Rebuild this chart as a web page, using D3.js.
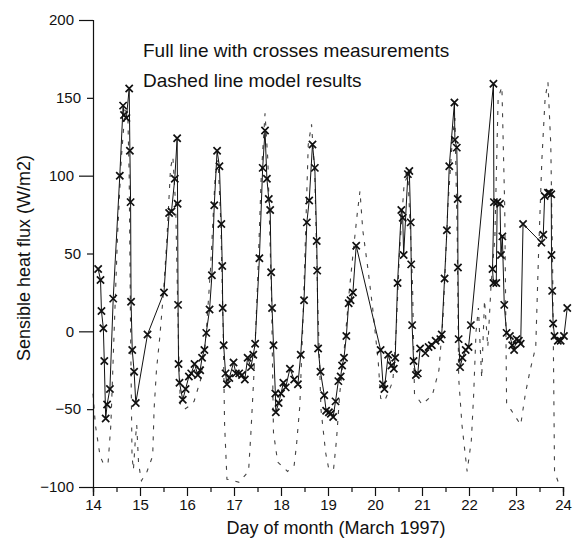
<!DOCTYPE html>
<html lang="en">
  <head>
    <meta charset="UTF-8" />
    <title>sensible heat flux</title>
    <script src="https://cdn.jsdelivr.net/npm/d3@7/dist/d3.min.js"></script>
    <style>
      body {
        margin: 0;
        background: #fff;
      }
      svg text {
        font-family: "Liberation Sans", Arial, sans-serif;
        fill: #111;
      }
    </style>
  </head>
  <body>
    <div id="wrapper"></div>
    <script>
      const measDay = [
        14.11, 14.16, 14.18, 14.22, 14.24, 14.27, 14.3, 14.36, 14.43, 14.57,
        14.64, 14.66, 14.71, 14.77, 14.785, 14.8, 14.81, 14.835, 14.875, 14.91,
        15.16, 15.51, 15.62, 15.67, 15.74, 15.79, 15.8, 15.81, 15.82, 15.84,
        15.91, 15.97, 16.04, 16.09, 16.16, 16.23, 16.28, 16.32, 16.37, 16.41,
        16.48, 16.53, 16.58, 16.64, 16.69, 16.73, 16.75, 16.76, 16.78, 16.82,
        16.85, 16.9, 16.99, 17.04, 17.11, 17.17, 17.23, 17.29, 17.36, 17.41,
        17.45, 17.54, 17.61, 17.66, 17.7, 17.74, 17.77, 17.79, 17.81, 17.84,
        17.88, 17.89, 17.95, 18.0, 18.05, 18.1, 18.19, 18.28, 18.36, 18.42,
        18.49, 18.55, 18.6, 18.67, 18.72, 18.76, 18.77, 18.79, 18.84, 18.92,
        18.96, 19.02, 19.06, 19.11, 19.16, 19.22, 19.27, 19.3, 19.34, 19.39,
        19.44, 19.48, 19.53, 19.6, 20.12, 20.17, 20.2, 20.28, 20.35, 20.4,
        20.43, 20.48, 20.56, 20.59, 20.61, 20.7, 20.73, 20.76, 20.77, 20.79,
        20.82, 20.87, 20.91, 20.96, 21.07, 21.14, 21.21, 21.29, 21.39, 21.42,
        21.48, 21.53, 21.58, 21.69, 21.7, 21.74, 21.76, 21.765, 21.78, 21.81,
        21.86, 21.93, 21.99, 22.04, 22.52, 22.53, 22.5, 22.52, 22.58, 22.6,
        22.66, 22.68, 22.71, 22.75, 22.8, 22.87, 22.92, 22.96, 23.01, 23.06,
        23.1, 23.15, 23.54, 23.58, 23.61, 23.68, 23.71, 23.75, 23.755, 23.77,
        23.79, 23.82, 23.89, 23.95, 24.02, 24.09,
      ];
      const measFlux = [
        40, 33, 13, 2, -19, -56, -47, -37, 21, 100,
        145, 139, 137, 156, 116, 83, 19, -12, -26, -46,
        -2, 25, 76, 77, 98, 124, 82, 17, -21, -33,
        -44, -37, -29, -27, -21, -28, -25, -17, -12, -1,
        14, 36, 81, 116, 106, 69, 42, 15, -9, -27,
        -34, -30, -20, -27, -27, -28, -31, -17, -23, -15,
        -8, 47, 105, 129, 98, 85, 78, 38, 15, -9,
        -40, -52, -46, -40, -33, -36, -24, -31, -34, -15,
        20, 70, 84, 120, 105, 58, 39, -11, -26, -41,
        -51, -52, -53, -55, -45, -32, -29, -22, -17, -3,
        18, 20, 25, 55, -12, -34, -37, -15, -22, -24,
        -17, 31, 78, 73, 49, 101, 103, 70, 43, 4,
        -19, -28, -27, -11, -14, -10, -9, -6, -5, -2,
        34, 65, 106, 147, 123, 118, 85, 41, -5, -23,
        -17, -12, -10, 4, 159, 83, 40, 31, 31, 83,
        82, 49, 61, 17, -1, -3, -9, -12, -5, -6,
        -8, 69, 57, 62, 87, 89, 89, 88, 49, 26,
        5, -3, -6, -6, -3, 15,
      ];

      // model results (dashed line)
      const modelDay = [
        14.0, 14.05, 14.15, 14.22, 14.32, 14.38, 14.45, 14.52, 14.6, 14.68,
        14.74, 14.77, 14.8, 14.83, 14.86, 14.9, 14.93, 14.97, 15.03, 15.15,
        15.27, 15.3, 15.35, 15.42, 15.5, 15.57, 15.65, 15.7, 15.76, 15.82,
        15.86, 15.95, 16.05, 16.15, 16.3, 16.4, 16.5, 16.6, 16.66, 16.72,
        16.77, 16.8, 16.85, 17.0, 17.11, 17.25, 17.31, 17.36, 17.42, 17.5,
        17.58, 17.66, 17.72, 17.8, 17.84, 17.93, 18.14, 18.28, 18.33, 18.4,
        18.46, 18.52, 18.58, 18.65, 18.72, 18.78, 18.85, 18.95, 19.02, 19.12,
        19.18, 19.25, 19.35, 19.45, 19.55, 19.62, 19.68, 19.74, 19.85, 19.95,
        20.07, 20.12, 20.2, 20.3, 20.38, 20.45, 20.52, 20.62, 20.7, 20.76,
        20.8, 20.84, 21.0, 21.22, 21.36, 21.45, 21.55, 21.65, 21.7, 21.75,
        21.78, 21.85, 21.96, 22.05, 22.1, 22.15, 22.2, 22.27, 22.33, 22.4,
        22.47, 22.55, 22.62, 22.7, 22.76, 22.8, 22.97, 23.1, 23.2, 23.3,
        23.42, 23.48, 23.55, 23.62, 23.68, 23.74, 23.78, 23.82, 23.9, 24.0,
      ];
      const modelFlux = [
        -40, -60, -80, -85, -85, -60, 0, 60, 110, 142,
        140, 100, 0, -80, -89, -70, -60, -85, -96, -90,
        -80, -50, -25, -4, 25, 58, 105, 112, 80, -10,
        -48, -50, -48, -45, -30, -5, 40, 100, 110, 70,
        0, -60, -95, -96, -97, -92, -90, -65, -30, 30,
        100, 140, 110, 20, -65, -84, -90, -86, -73, -48,
        0, 60, 120, 133, 100, 20, -50, -78, -89, -88,
        -70, -40, -10, 25, 55, 75, 90, 65, 40, 15,
        -20, -43, -45, -38, -32, 0, 50, 95, 100, 60,
        28, -40, -47, -41, -25, 10, 80, 125, 137, 60,
        -30, -60, -90, -70, -40, 0, 15, -30, 20, -10,
        30, 60, 150, 157, 80, -46, -54, -60, -40, -25,
        -10, 50, 110, 150, 160, 120, 40, -90, -97, -99,
      ];

      const xTicks = [14, 15, 16, 17, 18, 19, 20, 21, 22, 23, 24];
      const xMinorTicks = [14.5, 15.5, 16.5, 17.5, 18.5, 19.5, 20.5, 21.5, 22.5, 23.5];
      const yMajorTicks = [-100, 0, 100, 200];
      const yMinorTicks = [-50, 50, 150];
      const legendLines = [
        "Full line with crosses measurements",
        "Dashed line model results",
      ];

      const dimensions = {
        width: 576,
        height: 553,
        margin: { top: 20, right: 13, bottom: 66, left: 93 },
      };
      dimensions.boundedWidth =
        dimensions.width - dimensions.margin.left - dimensions.margin.right;
      dimensions.boundedHeight =
        dimensions.height - dimensions.margin.top - dimensions.margin.bottom;

      const svg = d3
        .select("#wrapper")
        .append("svg")
        .attr("width", dimensions.width)
        .attr("height", dimensions.height)
        .style("background", "#fff");

      const bounds = svg
        .append("g")
        .attr(
          "transform",
          `translate(${dimensions.margin.left},${dimensions.margin.top})`
        );

      const xScale = d3
        .scaleLinear()
        .domain([14, 24])
        .range([0, dimensions.boundedWidth]);
      const yScale = d3
        .scaleLinear()
        .domain([-100, 200])
        .range([dimensions.boundedHeight, 0]);

      const meas = d3.zip(measDay, measFlux);
      const model = d3.zip(modelDay, modelFlux);

      const lineGenerator = d3
        .line()
        .x((d) => xScale(d[0]))
        .y((d) => yScale(d[1]));

      // model
      bounds
        .append("path")
        .attr("d", lineGenerator(model))
        .attr("fill", "none")
        .attr("stroke", "#444")
        .attr("stroke-width", 1.1)
        .attr("stroke-dasharray", "4,7");

      // measurements
      bounds
        .append("path")
        .attr("d", lineGenerator(meas))
        .attr("fill", "none")
        .attr("stroke", "#111")
        .attr("stroke-width", 1);

      const cross = d3.symbol().type(d3.symbolX).size(36);
      bounds
        .append("g")
        .selectAll("path")
        .data(meas)
        .join("path")
        .attr("d", cross)
        .attr("transform", (d) => `translate(${xScale(d[0])},${yScale(d[1])})`)
        .attr("fill", "none")
        .attr("stroke", "#111")
        .attr("stroke-width", 1.7);

      // axes
      const styleAxis = (g, fontSize) => {
        g.select(".domain").attr("stroke", "#111").attr("stroke-width", 1.2);
        g.selectAll(".tick line").attr("stroke", "#111").attr("stroke-width", 1.2);
        g.selectAll(".tick text")
          .attr("fill", "#111")
          .style("font-size", fontSize)
          .style("font-family", '"Liberation Sans", Arial, sans-serif');
      };

      const xAxis = bounds
        .append("g")
        .attr("transform", `translate(0,${dimensions.boundedHeight})`)
        .call(
          d3.axisBottom(xScale).tickValues(xTicks).tickFormat(d3.format("d"))
            .tickSize(9).tickPadding(3)
        );
      styleAxis(xAxis, "15px");

      const xMinor = bounds
        .append("g")
        .attr("transform", `translate(0,${dimensions.boundedHeight})`)
        .call(d3.axisBottom(xScale).tickValues(xMinorTicks).tickFormat("").tickSize(5));
      styleAxis(xMinor, "15px");

      const yAxis = bounds
        .append("g")
        .call(
          d3.axisLeft(yScale).tickValues(yMajorTicks).tickSize(14).tickPadding(5)
        );
      styleAxis(yAxis, "15px");

      const yMinor = bounds
        .append("g")
        .call(d3.axisLeft(yScale).tickValues(yMinorTicks).tickSize(6).tickPadding(6));
      yMinor.select(".domain").remove();
      styleAxis(yMinor, "15px");

      // legend text
      svg
        .append("g")
        .selectAll("text")
        .data(legendLines)
        .join("text")
        .attr("x", 143)
        .attr("y", (d, i) => 57 + i * 30)
        .style("font-size", "19px")
        .text((d) => d);

      // axis titles
      svg
        .append("text")
        .attr("x", dimensions.margin.left + dimensions.boundedWidth / 2 + 8)
        .attr("y", 534)
        .attr("text-anchor", "middle")
        .style("font-size", "18px")
        .text("Day of month (March 1997)");

      svg
        .append("text")
        .attr("transform", `translate(30,258) rotate(-90)`)
        .attr("text-anchor", "middle")
        .style("font-size", "18px")
        .text("Sensible heat flux (W/m2)");
    </script>
  </body>
</html>
